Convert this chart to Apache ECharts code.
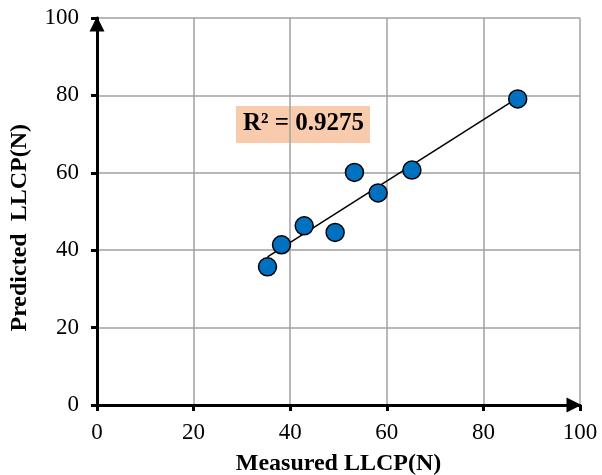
<!DOCTYPE html>
<html>
<head>
<meta charset="utf-8">
<script src="https://cdn.jsdelivr.net/npm/echarts@6/dist/echarts.min.js"></script>
<style>
  html, body { margin: 0; padding: 0; background: #fff; }
  #chart { width: 602px; height: 475px; }
</style>
</head>
<body>
<div id="chart"></div>
<script>
// Measured vs predicted LLCP values (N)
var measured = [35.3, 38.2, 42.9, 49.3, 53.3, 58.2, 65.2, 87.1];
var predicted = [35.7, 41.4, 46.3, 44.6, 60.1, 54.8, 60.7, 79.1];
var axisTicks = [0, 20, 40, 60, 80, 100];
var r2Label = 'R² = 0.9275';

// Least squares trend line through the points
function linearFit(xs, ys) {
    var n = xs.length, sx = 0, sy = 0, sxy = 0, sxx = 0;
    for (var i = 0; i < n; i++) {
        sx += xs[i]; sy += ys[i];
        sxy += xs[i] * ys[i]; sxx += xs[i] * xs[i];
    }
    var slope = (n * sxy - sx * sy) / (n * sxx - sx * sx);
    var intercept = (sy - slope * sx) / n;
    return { slope: slope, intercept: intercept };
}

var fit = linearFit(measured, predicted);
var xMin = Math.min.apply(null, measured);
var xMax = Math.max.apply(null, measured);
var trend = [
    [xMin, fit.slope * xMin + fit.intercept],
    [xMax, fit.slope * xMax + fit.intercept]
];
var points = measured.map(function (x, i) { return [x, predicted[i]]; });

var font = '"Liberation Serif", "Times New Roman", serif';

function valueAxis(name) {
    return {
        type: 'value',
        min: axisTicks[0],
        max: axisTicks[axisTicks.length - 1],
        interval: axisTicks[1] - axisTicks[0],
        name: name,
        axisLine: {
            show: true,
            symbol: ['none', 'triangle'],
            symbolSize: [15, 15],
            symbolOffset: [0, -6],
            lineStyle: { color: '#000', width: 3 }
        },
        axisTick: {
            show: true,
            length: 6,
            lineStyle: { color: '#000', width: 3 }
        },
        splitLine: { show: true, lineStyle: { color: '#a0a0a0', width: 1.5 } },
        axisLabel: { color: '#000', fontFamily: font, fontSize: 23 }
    };
}

var xAxis = valueAxis('Measured LLCP(N)');
xAxis.nameLocation = 'middle';
xAxis.nameGap = 47;
xAxis.nameTextStyle = { color: '#000', fontFamily: font, fontSize: 24, fontWeight: 'bold' };
xAxis.axisLabel.margin = 16;

var yAxis = valueAxis('');
yAxis.axisLabel.margin = 18;

var chart = echarts.init(document.getElementById('chart'), null, { renderer: 'canvas' });
chart.setOption({
    animation: false,
    backgroundColor: '#fff',
    grid: {
        left: 97, right: 22, top: 18, bottom: 70,
        containLabel: false,
        outerBoundsMode: 'none'
    },
    xAxis: xAxis,
    yAxis: yAxis,
    graphic: [
        {
            type: 'text',
            left: 8,
            top: 124,
            rotation: Math.PI / 2,
            style: {
                text: 'Predicted  LLCP(N)',
                font: 'bold 24px ' + font,
                fill: '#000'
            }
        },
        {
            type: 'rect',
            left: 236,
            top: 106,
            shape: { width: 134, height: 37 },
            style: { fill: '#f8cbad' }
        },
        {
            type: 'text',
            left: 243,
            top: 111,
            style: {
                text: r2Label,
                font: 'bold 25px ' + font,
                fill: '#000'
            }
        }
    ],
    series: [
        {
            type: 'line',
            data: trend,
            symbol: 'none',
            lineStyle: { color: '#000', width: 1.5 },
            z: 2
        },
        {
            type: 'scatter',
            data: points,
            symbol: 'circle',
            symbolSize: 18,
            itemStyle: { color: '#0070c0', borderColor: '#000', borderWidth: 1.5, opacity: 1 },
            z: 3
        }
    ]
});
</script>
</body>
</html>
